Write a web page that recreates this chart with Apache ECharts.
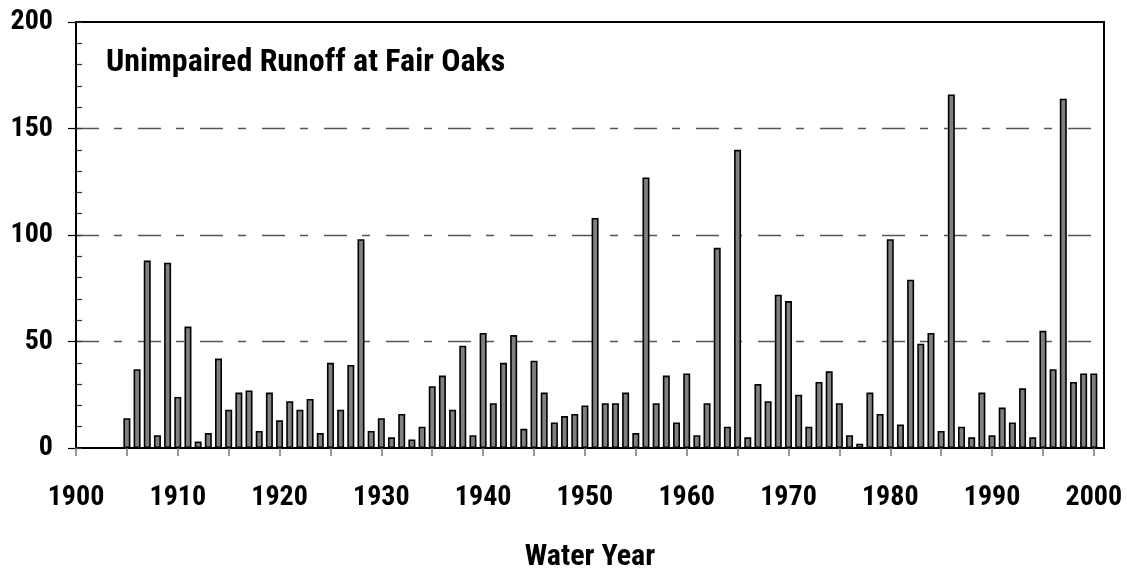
<!DOCTYPE html>
<html>
<head>
<meta charset="utf-8">
<script src="https://cdn.jsdelivr.net/npm/echarts@6/dist/echarts.min.js"></script>
<style>
html,body{margin:0;padding:0;background:#fff;}
#chart{width:1127px;height:571px;}
</style>
</head>
<body>
<div id="chart"></div>
<script>
var years = [1905,1906,1907,1908,1909,1910,1911,1912,1913,1914,1915,1916,1917,1918,1919,
1920,1921,1922,1923,1924,1925,1926,1927,1928,1929,1930,1931,1932,1933,1934,1935,1936,1937,1938,1939,
1940,1941,1942,1943,1944,1945,1946,1947,1948,1949,1950,1951,1952,1953,1954,1955,1956,1957,1958,1959,
1960,1961,1962,1963,1964,1965,1966,1967,1968,1969,1970,1971,1972,1973,1974,1975,1976,1977,1978,1979,
1980,1981,1982,1983,1984,1985,1986,1987,1988,1989,1990,1991,1992,1993,1994,1995,1996,1997,1998,1999,2000];
var runoff = [14,37,88,6,87,24,57,3,7,42,18,26,27,8,26,
13,22,18,23,7,40,18,39,98,8,14,5,16,4,10,29,34,18,48,6,
54,21,40,53,9,41,26,12,15,16,20,108,21,21,26,7,127,21,34,12,
35,6,21,94,10,140,5,30,22,72,69,25,10,31,36,21,6,2,26,16,
98,11,79,49,54,8,166,10,5,26,6,19,12,28,5,55,37,164,31,35,35];
var xTickValues = [1900,1905,1910,1915,1920,1925,1930,1935,1940,1945,1950,1955,1960,1965,1970,1975,1980,1985,1990,1995,2000];
var xLabelValues = [1900,1910,1920,1930,1940,1950,1960,1970,1980,1990,2000];
var yTickLabels = [0,50,100,150,200];
var titleText = 'Unimpaired Runoff at Fair Oaks';
var xAxisTitle = 'Water Year';

var FONT = "'Roboto Condensed','Liberation Sans',sans-serif";
var chart = echarts.init(document.getElementById('chart'), null, {renderer:'canvas'});
var data = years.map(function(y,i){return [y, runoff[i]];});
chart.setOption({
  animation:false,
  backgroundColor:'#fff',
  title:{text:titleText,left:106,top:47,padding:0,
    textStyle:{fontFamily:FONT,fontSize:32,fontWeight:'bold',color:'#000'}},
  grid:{left:76,right:23,top:22,bottom:123,outerBoundsMode:'none',containLabel:false,
    show:true,borderColor:'#000',borderWidth:2,backgroundColor:'transparent'},
  xAxis:{type:'value',min:1900,max:2001,
    name:xAxisTitle,nameLocation:'middle',nameGap:94,
    nameTextStyle:{fontFamily:FONT,fontSize:30,fontWeight:'bold',color:'#000'},
    axisLine:{show:true,lineStyle:{color:'#000',width:2}},
    axisTick:{show:true,length:8,lineStyle:{color:'#777',width:1.5},customValues:xTickValues},
    axisLabel:{show:true,margin:36,fontFamily:FONT,fontSize:28,fontWeight:'bold',color:'#000',lineHeight:28,
      customValues:xLabelValues,formatter:function(v){return String(v);}},
    splitLine:{show:false}},
  yAxis:[{type:'value',min:0,max:200,interval:50,
    axisLine:{show:true,lineStyle:{color:'#000',width:2}},
    axisTick:{show:true,length:8,lineStyle:{color:'#000',width:1.2},customValues:yTickLabels},
    axisLabel:{margin:23,fontFamily:FONT,fontSize:28,fontWeight:'bold',color:'#000',customValues:yTickLabels},
    splitLine:{show:true,showMinLine:false,showMaxLine:false,
      lineStyle:{color:'#555',width:1.3,type:[23,15,8,16]}}},
   {type:'value',min:0,max:200,interval:10,position:'left',
    axisLine:{show:false},
    axisTick:{show:true,inside:true,length:6,lineStyle:{color:'#333',width:1.2}},
    axisLabel:{show:false},splitLine:{show:false}}],
  series:[{type:'bar',data:data,barWidth:7,
    itemStyle:{color:'#808080',borderColor:'#000',borderWidth:1.6}}]
});
</script>
</body>
</html>
